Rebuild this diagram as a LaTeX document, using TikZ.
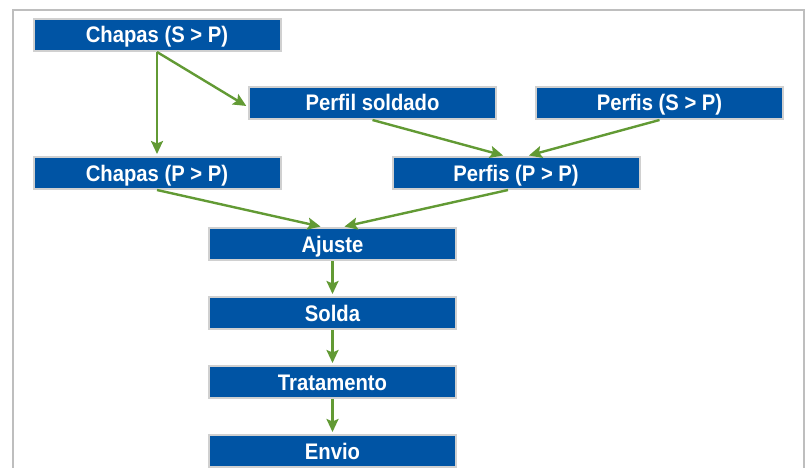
\documentclass[tikz,border=0pt]{standalone}
\usepackage{fontspec}
\newfontfamily\boxfont{Liberation Sans}[FakeStretch=0.9]
\usetikzlibrary{arrows.meta}
\definecolor{boxblue}{RGB}{0,84,164}
\definecolor{boxedge}{RGB}{208,208,208}
\definecolor{arrgreen}{RGB}{98,154,52}
\definecolor{framegray}{RGB}{190,190,190}
\begin{document}
\begin{tikzpicture}[x=1pt,y=-1pt,
    >={Stealth[length=13pt,width=12pt,inset=2.5pt]},
    etapa/.style={draw=boxedge,line width=2pt,fill=boxblue,text=white,
        minimum width=247pt,minimum height=32pt,inner sep=0pt,
        text height=18pt,text depth=2pt,
        font=\boxfont\bfseries\fontsize{22.5}{24}\selectfont},
    fluxo/.style={->,draw=arrgreen,line width=2.4pt,shorten >=2pt}]
    \useasboundingbox (0,0) rectangle (808,468);
    \draw[framegray,line width=1.5pt] (13,10) rectangle (804,490);
    % etapas
    \node[etapa] (chSP)  at (157,35)    {Chapas (S > P)};
    \node[etapa] (psold) at (372.5,103) {Perfil soldado};
    \node[etapa] (pfSP)  at (659.5,103) {Perfis (S > P)};
    \node[etapa] (chPP)  at (157,173)   {Chapas (P > P)};
    \node[etapa] (pfPP)  at (516,173)   {Perfis (P > P)};
    \node[etapa] (ajuste) at (332.5,244) {Ajuste};
    \node[etapa] (solda)  at (332.5,313) {Solda};
    \node[etapa] (trat)   at (332.5,382) {Tratamento};
    \node[etapa] (envio)  at (332.5,451) {Envio};
    % pontos de chegada
    \coordinate (pfPPl) at ([xshift=-11pt]pfPP.north);
    \coordinate (pfPPr) at ([xshift=11pt]pfPP.north);
    \coordinate (ajl) at ([xshift=-10pt]ajuste.north);
    \coordinate (ajr) at ([xshift=10pt]ajuste.north);
    % ligacoes
    \draw[fluxo] (chSP.south) -- (chPP.north);
    \draw[fluxo] (chSP.south) -- ([yshift=-4pt]psold.west);
    \draw[fluxo] (psold.south) -- (pfPPl);
    \draw[fluxo] (pfSP.south) -- (pfPPr);
    \draw[fluxo] (chPP.south) -- (ajl);
    \draw[fluxo] ([xshift=-8pt]pfPP.south) -- (ajr);
    \draw[fluxo] (ajuste) -- (solda);
    \draw[fluxo] (solda) -- (trat);
    \draw[fluxo] (trat) -- (envio);
\end{tikzpicture}
\end{document}
